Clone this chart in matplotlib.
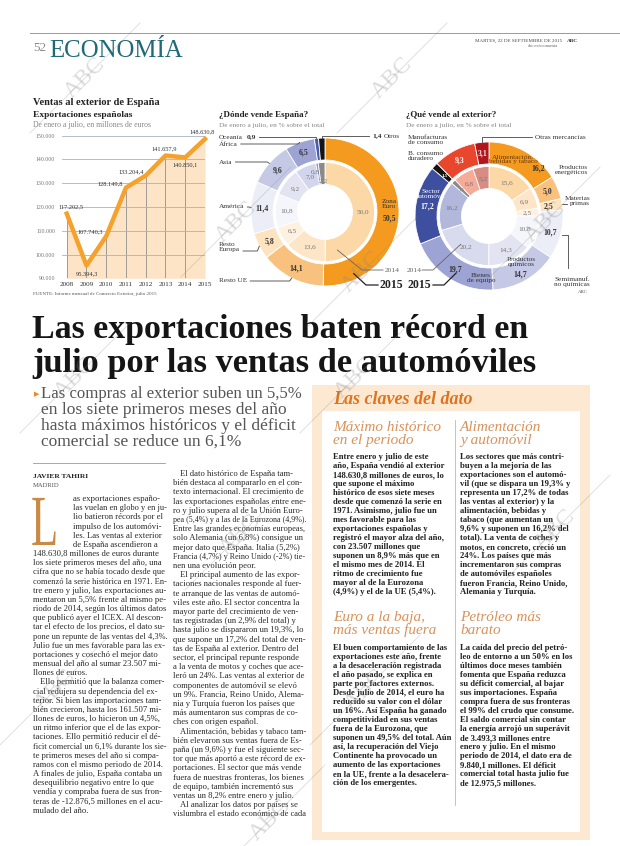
import numpy as np
import matplotlib
matplotlib.use("Agg")
import matplotlib.pyplot as plt
from matplotlib.lines import Line2D
from matplotlib.patches import Rectangle, PathPatch
from matplotlib.textpath import TextPath
from matplotlib.font_manager import FontProperties
from matplotlib.transforms import Affine2D

plt.rcParams['font.family'] = ['Liberation Serif', 'DejaVu Serif']

W, H = 620, 846

# ---- chart data ----
years = [2008, 2009, 2010, 2011, 2012, 2013, 2014, 2015]
exports = [117202.5, 95394.3, 107740.3, 128149.8, 133204.4, 141657.9, 140850.1, 148630.8]
export_ticks = [90000, 100000, 110000, 120000, 130000, 140000, 150000]

dest_names = ['Zona Euro', 'Resto UE', 'Resto Europa', 'América', 'Asia', 'África', 'Oceanía', 'Otros']
dest_2015 = [50.5, 14.1, 5.8, 11.4, 9.6, 6.5, 0.9, 1.4]
dest_2014 = [50.0, 13.6, 6.5, 10.8, 9.2, 7.0, 0.8, 2.2]

prod_names = ['Alimentación,\nbebidas y tabaco', 'Productos\nenergéticos', 'Materias\nprimas',
              'Semimanuf.\nno químicas', 'Productos\nquímicos', 'Bienes\nde equipo',
              'Sector\nautomóvil', 'B. consumo\nduradero', 'Manufacturas\nde consumo', 'Otras mercancías']
prod_2015 = [16.2, 5.0, 2.5, 10.7, 14.7, 19.7, 17.2, 1.5, 9.3, 3.1]
prod_2014 = [15.6, 6.9, 2.5, 10.8, 14.3, 20.2, 16.2, 1.5, 6.8, 5.2]

# ---- article text ----
headline = ['Las exportaciones baten récord en', 'julio por las ventas de automóviles']
subhead = ['Las compras al exterior suben un 5,5%', 'en los siete primeros meses del año',
           'hasta máximos históricos y el déficit', 'comercial se reduce un 6,1%']

col1 = [
    "as exportaciones españo-", "las vuelan en globo y en ju-", "lio batieron récords por el",
    "impulso de los automóvi-", "les. Las ventas al exterior", "de España ascendieron a",
    "148.630,8 millones de euros durante", "los siete primeros meses del año, una",
    "cifra que no se había tocado desde que", "comenzó la serie histórica en 1971. En-",
    "tre enero y julio, las exportaciones au-", "mentaron un 5,5% frente al mismo pe-",
    "riodo de 2014, según los últimos datos", "que publicó ayer el ICEX. Al descon-",
    "tar el efecto de los precios, el dato su-", "pone un repunte de las ventas del 4,3%.",
    "Julio fue un mes favorable para las ex-", "portaciones y cosechó el mejor dato",
    "mensual del año al sumar 23.507 mi-", "llones de euros.",
    ">Ello permitió que la balanza comer-", "cial redujera su dependencia del ex-",
    "terior. Si bien las importaciones tam-", "bién crecieron, hasta los 161.507 mi-",
    "llones de euros, lo hicieron un 4,5%,", "un ritmo inferior que el de las expor-",
    "taciones. Ello permitió reducir el dé-", "ficit comercial un 6,1% durante los sie-",
    "te primeros meses del año si compa-", "ramos con el mismo periodo de 2014.",
    "A finales de julio, España contaba un", "desequilibrio negativo entre lo que",
    "vendía y compraba fuera de sus fron-", "teras de -12.876,5 millones en el acu-",
    "mulado del año.",
]
col2 = [
    ">El dato histórico de España tam-", "bién destaca al compararlo en el con-",
    "texto internacional. El crecimiento de", "las exportaciones españolas entre ene-",
    "ro y julio supera al de la Unión Euro-", "pea (5,4%) y a las de la Eurozona (4,9%).",
    "Entre las grandes economías europeas,", "solo Alemania (un 6,8%) consigue un",
    "mejor dato que España. Italia (5,2%)", "Francia (4,7%) y Reino Unido (-2%) tie-",
    "nen una evolución peor.",
    ">El principal aumento de las expor-", "taciones nacionales responde al fuer-",
    "te arranque de las ventas de automó-", "viles este año. El sector concentra la",
    "mayor parte del crecimiento de ven-", "tas registradas (un 2,9% del total) y",
    "hasta julio se dispararon un 19,3%, lo", "que supone un 17,2% del total de ven-",
    "tas de España al exterior. Dentro del", "sector, el principal repunte responde",
    "a la venta de motos y coches que ace-", "leró un 24%. Las ventas al exterior de",
    "componentes de automóvil se elevó", "un 9%. Francia, Reino Unido, Alema-",
    "nia y Turquía fueron los países que", "más aumentaron sus compras de co-",
    "ches con origen español.",
    ">Alimentación, bebidas y tabaco tam-", "bién elevaron sus ventas fuera de Es-",
    "paña (un 9,6%) y fue el siguiente sec-", "tor que más aportó a este récord de ex-",
    "portaciones. El sector que más vende", "fuera de nuestras fronteras, los bienes",
    "de equipo, también incrementó sus", "ventas un 8,2% entre enero y julio.",
    ">Al analizar los datos por países se", "vislumbra el estado económico de cada",
]
box_a1 = [
    "Entre enero y julio de este", "año, España vendió al exterior", "148.630,8 millones de euros, lo",
    "que supone el máximo", "histórico de esos siete meses", "desde que comenzó la serie en",
    "1971. Asimismo, julio fue un", "mes favorable para las", "exportaciones españolas y",
    "registró el mayor alza del año,", "con 23.507 millones que", "suponen un 8,9% más que en",
    "el mismo mes de 2014. El", "ritmo de crecimiento fue", "mayor al de la Eurozona",
    "(4,9%) y el de la UE (5,4%).",
]
box_b1 = [
    "Los sectores que más contri-", "buyen a la mejoría de las", "exportaciones son el automó-",
    "vil (que se dispara un 19,3% y", "representa un 17,2% de todas", "las ventas al exterior) y la",
    "alimentación, bebidas y", "tabaco (que aumentan un", "9,6% y suponen un 16,2% del",
    "total). La venta de coches y", "motos, en concreto, creció un", "24%. Los países que más",
    "incrementaron sus compras", "de automóviles españoles", "fueron Francia, Reino Unido,",
    "Alemania y Turquía.",
]
box_a2 = [
    "El buen comportamiento de las", "exportaciones este año, frente", "a la desaceleración registrada",
    "el año pasado, se explica en", "parte por factores externos.", "Desde julio de 2014, el euro ha",
    "reducido su valor con el dólar", "un 16%. Así España ha ganado", "competitividad en sus ventas",
    "fuera de la Eurozona, que", "suponen un 49,5% del total. Aún", "así, la recuperación del Viejo",
    "Continente ha provocado un", "aumento de las exportaciones", "en la UE, frente a la desacelera-",
    "ción de los emergentes.",
]
box_b2 = [
    "La caída del precio del petró-", "leo de entorno a un 50% en los", "últimos doce meses también",
    "fomenta que España reduzca", "su déficit comercial, al bajar", "sus importaciones. España",
    "compra fuera de sus fronteras", "el 99% del crudo que consume.", "El saldo comercial sin contar",
    "la energía arrojó un superávit", "de 3.493,3 millones entre", "enero y julio. En el mismo",
    "periodo de 2014, el dato era de", "9.840,1 millones. El déficit", "comercial total hasta julio fue",
    "de 12.975,5 millones.",
]


def es(v, d=1):
    return f"{v:,.{d}f}".replace(',', ' ').replace('.', ',').replace(' ', '.')


fig = plt.figure(figsize=(W / 100, H / 100), dpi=100)
R = fig.canvas.get_renderer()


def txt(x, y, s, size=6, fit=None, **kw):
    kw.setdefault('va', 'baseline')
    t = fig.text(x / W, 1 - y / H, s, fontsize=size, **kw)
    if fit:
        w = t.get_window_extent(R).width
        if w > fit:
            t.set_fontsize(size * fit / w)
    return t


def line(xs, ys, **kw):
    kw.setdefault('color', '#555555')
    kw.setdefault('lw', 0.6)
    fig.add_artist(Line2D(np.asarray(xs, float) / W, 1 - np.asarray(ys, float) / H, **kw))


def rect(x0, y0, x1, y1, color, **kw):
    fig.add_artist(Rectangle((x0 / W, 1 - y1 / H), (x1 - x0) / W, (y1 - y0) / H,
                             color=color, lw=0, transform=fig.transFigure, **kw))


def axes_px(x0, y0, x1, y1):
    return fig.add_axes([x0 / W, 1 - y1 / H, (x1 - x0) / W, (y1 - y0) / H])


def column(x, y0, step, lines, width, size=6.2, indent=7, **kw):
    for i, s in enumerate(lines):
        dx = 0
        if s.startswith('>'):
            s, dx = s[1:], indent
        txt(x + dx, y0 + i * step, s, size=size, fit=width - dx, **kw)


# ---- page header ----
line([30, 620], [33, 33], color='#9a9a9a', lw=0.7)
txt(33, 51, '52', size=9.5, color='#8a8a8a')
txt(49, 57, 'ECONOMÍA', size=21, fit=134, color='#1e6a78')
txt(562, 42, 'MARTES, 22 DE SEPTIEMBRE DE 2015', size=3.6, ha='right', color='#444')
txt(567, 42, 'ABC', size=3.8, weight='bold', color='#333')
txt(558, 47, 'abc.es/economia', size=3.3, ha='right', color='#666')

# ---- line chart: exports ----
txt(33, 105, 'Ventas al exterior de España', size=8, fit=126, weight='bold', color='#222')
txt(33, 117, 'Exportaciones españolas', size=7, fit=100, weight='bold', color='#222')
txt(33, 127, 'De enero a julio, en millones de euros', size=5.6, fit=122, color='#888')

ax = axes_px(62, 135.7, 205, 278.3)
ax.set_xlim(2007.76, 2015)
ax.set_ylim(90000, 150000)
ax.fill_between(years, exports, 90000, color='#fde4c6', lw=0, zorder=1)
ax.vlines(years, 90000, exports, color='#8f8f8f', lw=0.6, zorder=2)
ax.plot(years, exports, color='#f5a12c', lw=3.2, solid_joinstyle='round', zorder=4, clip_on=False)
ax.set_yticks(export_ticks)
ax.set_yticklabels([es(v, 0) for v in export_ticks])
ax.set_xticks(years)
ax.set_xticklabels([str(y) for y in years])
ax.yaxis.grid(True, color='#aab0c6', lw=0.6)
ax.set_axisbelow(False)
ax.tick_params(axis='y', length=0, labelsize=4.2, labelcolor='#777777', pad=5)
ax.tick_params(axis='x', length=0, labelsize=5.2, labelcolor='#333333', pad=3)
for sp in ax.spines.values():
    sp.set_visible(False)
ax.patch.set_visible(False)
lab_style = [('center', 3, 5), ('center', 0, -6), ('right', -2, 3), ('right', -2, 3),
             ('right', -1, 3), ('center', -1, 5), ('center', 0, -5), ('center', -2, 5)]
for yr, v, (ha, dx, dy) in zip(years, exports, lab_style):
    ax.annotate(es(v), (yr, v), xytext=(dx, dy), textcoords='offset points', ha=ha,
                va='center', fontsize=4.6, color='#333333', zorder=6, annotation_clip=False)
txt(33, 295, 'FUENTE: Informe mensual de Comercio Exterior, julio 2015', size=3.6, fit=130, color='#555')

# ---- donut charts ----
R_OUT, R_IN, RING = 74, 49.5, 22


def donut(cx, cy, outer, inner, oc, ic):
    a = axes_px(cx - 90, cy - 90, cx + 90, cy + 90)
    wp = dict(width=RING, edgecolor='white', linewidth=0.6)
    wo, _ = a.pie(outer, radius=R_OUT, startangle=90, counterclock=False, colors=oc, wedgeprops=wp)
    wi, _ = a.pie(inner, radius=R_IN, startangle=90, counterclock=False, colors=ic, wedgeprops=wp)
    a.set_xlim(-90, 90)
    a.set_ylim(-90, 90)
    a.axis('off')
    return wo, wi


def spot(w, r, cx, cy, dang=0.0):
    th = np.deg2rad((w.theta1 + w.theta2) / 2 + dang)
    return cx + r * np.cos(th), cy - r * np.sin(th)


def at_angle(deg, r, cx, cy):
    th = np.deg2rad(deg)
    return cx + r * np.cos(th), cy - r * np.sin(th)


VAL = dict(size=5.6, weight='bold', ha='center', va='center')
IVAL = dict(size=5.2, ha='center', va='center', color='#777777')
NAME = dict(size=5.2, va='center', color='#333333', linespacing=0.95)

# left donut: where Spain sells
LX, LY = 325, 212
txt(219, 117, '¿Dónde vende España?', size=7, fit=90, weight='bold', color='#222')
txt(219, 127, 'De enero a julio, en % sobre el total', size=5.6, fit=105, color='#888')
dest_outer_c = ['#f39a1f', '#f8c27e', '#fde3c0', '#eceef7', '#c5c9e6', '#9da3d2', '#4b5cab', '#141414']
dest_inner_c = ['#fcd8a6', '#fde6c8', '#fef1e0', '#f5f6fb', '#e2e4f2', '#d2d5eb', '#8d95cb', '#8a8a8a']
wo, wi = donut(LX, LY, dest_2015, dest_2014, dest_outer_c, dest_inner_c)

for i in [1, 2, 3, 4, 5]:
    x, y = spot(wo[i], 63, LX, LY)
    txt(x, y, es(dest_2015[i]), color='#333', **VAL)
x, y = spot(wo[0], 64, LX, LY)
txt(x, y - 9, 'Zona\nEuro', size=5.2, ha='center', va='center', color='#333', linespacing=0.95)
txt(x, y + 6, es(dest_2015[0]), color='#333', **VAL)
for i, v in enumerate(dest_2014):
    r, dang = 38, 0
    if i == 6:
        r, dang = 41, 4
    if i == 7:
        r = 31
    x, y = spot(wi[i], r, LX, LY, dang)
    txt(x, y, es(v), **IVAL)

left_labels = [(6, 137), (5, 144), (4, 162), (3, 207), (2, 247), (1, 281)]
for i, yy in left_labels:
    name = 'Resto\nEuropa' if i == 2 else dest_names[i]
    t = txt(219, yy, name, ha='left', **NAME)
    x_end = t.get_window_extent(R).x1
    if i == 6:
        t2 = txt(x_end + 4, yy, es(dest_2015[i]), size=5.4, weight='bold', va='center', color='#333')
        x_end = t2.get_window_extent(R).x1
    ly = yy + 4 if i == 2 else yy
    tx, ty = spot(wo[i], R_OUT, LX, LY)
    if i == 6:
        line([x_end + 3, tx, tx], [ly, ly, ty], color='#444')
    else:
        line([x_end + 3, tx - 2, tx], [ly, ly, ty], color='#444')
tx, ty = spot(wo[7], R_OUT, LX, LY)
line([tx, tx, 369], [ty, 136, 136], color='#444')
t = txt(372, 136, es(dest_2015[7]), size=5.4, weight='bold', va='center', color='#333')
txt(t.get_window_extent(R).x1 + 2, 136, 'Otros', ha='left', **NAME)

sx, sy = at_angle(-72, 40, LX, LY)
line([sx, 362, 383], [sy, 270, 270], color='#666')
txt(385, 270, '2014', size=5.4, va='center', color='#666')
sx, sy = at_angle(-65, 68, LX, LY)
line([sx, 366, 378], [sy, 285, 285], color='#222', lw=0.9)
txt(380, 285, '2015', size=8.5, weight='bold', va='center', color='#222')

# right donut: what Spain sells
RX, RY = 489, 216
txt(406, 117, '¿Qué vende al exterior?', size=7, fit=92, weight='bold', color='#222')
txt(406, 127, 'De enero a julio, en % sobre el total', size=5.6, fit=105, color='#888')
prod_outer_c = ['#f39a1f', '#f8c27e', '#fde3c0', '#eceef7', '#c5c9e6', '#9da3d2',
                '#3d4f9e', '#141414', '#e8462d', '#b3151c']
prod_inner_c = ['#fcd8a6', '#fde6c8', '#fef1e0', '#f5f6fb', '#e2e4f2', '#d8dbee',
                '#b2b7dc', '#8a8a8a', '#f6aa98', '#d98d82']
wo, wi = donut(RX, RY, prod_2015, prod_2014, prod_outer_c, prod_inner_c)

val_r = [None, 63, 60, 63, 63, 63, 63, 60, 63, 63]
val_c = ['#333', '#333', '#333', '#333', '#333', '#333', 'white', 'white', 'white', '#eee']
for i, v in enumerate(prod_2015):
    if i == 0:
        continue
    x, y = spot(wo[i], val_r[i], RX, RY)
    if i == 4:
        y += 4
    vs = VAL if i != 7 else dict(VAL, size=3.6)
    txt(x, y, es(v), color=val_c[i], **vs)
x, y = spot(wo[0], 68, RX, RY, -17)
txt(x, y, es(prod_2015[0]), color='#333', **VAL)
for i, v in enumerate(prod_2014):
    x, y = spot(wi[i], 38, RX, RY)
    kw = IVAL if i != 7 else dict(IVAL, size=3.4)
    txt(x, y, es(v), **kw)

txt(513, 159, prod_names[0], size=5.2, ha='center', va='center', color='#6b3a0a', linespacing=0.95)
txt(588, 170, prod_names[1], ha='right', **NAME)
txt(590, 201, prod_names[2], ha='right', **NAME)
tx, ty = spot(wo[2], R_OUT, RX, RY)
line([tx, 567], [ty, ty], color='#444')
txt(590, 282, prod_names[3], ha='right', **NAME)
tx, ty = spot(wo[3], R_OUT + 1, RX, RY)
line([tx, 568, 568], [ty, ty, 268], color='#444')
txt(521, 262, prod_names[4], size=5.2, ha='center', va='center', color='#333', linespacing=0.95)
txt(481, 278, prod_names[5], size=5.2, ha='center', va='center', color='#333', linespacing=0.95)
txt(431, 194, prod_names[6], size=5.2, ha='center', va='center', color='white', linespacing=0.95)
txt(408, 156, prod_names[7], ha='left', **NAME)
txt(408, 140, prod_names[8], ha='left', **NAME)
tx, ty = spot(wo[9], R_OUT, RX, RY)
line([tx, tx, 532], [ty, 137, 137], color='#444')
txt(535, 137, prod_names[9], ha='left', **NAME)

sx, sy = at_angle(-135, 40, RX, RY)
line([422, 433, sx], [270, 270, sy], color='#666')
txt(407, 270, '2014', size=5.4, va='center', color='#666')
sx, sy = at_angle(-120, 66, RX, RY)
line([433, 444, sx], [285, 285, sy], color='#222', lw=0.9)
txt(408, 285, '2015', size=8.5, weight='bold', va='center', color='#222')
txt(588, 293, 'ABC', size=3.5, ha='right', color='#555')

# ---- headline and deck ----
txt(32, 338, headline[0], size=27, fit=497, weight='bold', color='#151515')
txt(32, 372, headline[1], size=27, fit=504, weight='bold', color='#151515')
txt(34, 394, '\u25b6', size=5, color='#e8892a', family='DejaVu Sans', va='center')
for k, s in enumerate(subhead):
    txt(41, 398 + k * 15.8, s, size=12.5, fit=262, color='#555555')

# ---- byline and body ----
line([33, 165], [463, 463], color='#999', lw=0.6)
txt(33, 478, 'JAVIER TAHIRI', size=5.4, weight='bold', color='#222')
txt(33, 487, 'MADRID', size=4.8, color='#555')

# narrow drop cap: glyph outline squeezed horizontally
cap = TextPath((0, 0), 'L', size=1, prop=FontProperties(family='Liberation Serif'))
cap_tf = Affine2D().scale(72 * 0.62, 72).translate(31, H - 545)
fig.add_artist(PathPatch(cap, transform=cap_tf, color='#c98a45', lw=0))

STEP = 9.17
column(73, 501, STEP, col1[:6], 93, color='#2a2a2a')
column(33, 501 + 6 * STEP, STEP, col1[6:], 133, color='#2a2a2a')
column(173, 476, 9.2, col2, 133, color='#2a2a2a')

# ---- key facts box ----
rect(312, 385, 590, 840, '#fde8d1')
rect(322, 411, 580, 832, 'white')
txt(333, 404, 'Las claves del dato', size=13, fit=150, weight='bold', style='italic', color='#e0731d')
line([455, 455], [420, 805], color='#b8a898', lw=0.5)
HEAD = dict(size=11, style='italic', color='#d9925a')
BOX = dict(size=6.2, weight='bold', color='#222')
txt(333, 431, 'Máximo histórico', fit=110, **HEAD)
txt(333, 444, 'en el periodo', fit=110, **HEAD)
column(333, 459, 9.0, box_a1, 118, **BOX)
txt(460, 431, 'Alimentación', fit=110, **HEAD)
txt(460, 444, 'y automóvil', fit=110, **HEAD)
column(460, 459, 9.0, box_b1, 116, **BOX)
txt(333, 621, 'Euro a la baja,', fit=110, **HEAD)
txt(333, 634, 'más ventas fuera', fit=110, **HEAD)
column(333, 650, 9.0, box_a2, 118, **BOX)
txt(460, 621, 'Petróleo más', fit=110, **HEAD)
txt(460, 634, 'barato', fit=110, **HEAD)
column(460, 650, 9.0, box_b2, 116, **BOX)

# ---- ABC watermarks ----
wm = [(85, 78), (392, 78), (236, 222), (545, 222), (362, 272), (75, 378), (355, 378),
      (240, 535), (555, 530), (55, 690), (365, 690), (270, 820)]
for x, y in wm:
    txt(x, y, 'ABC', size=17, color='#8a8a8a', alpha=0.3, rotation=45,
        ha='center', va='center', zorder=10)
    line([x - 55, x + 55], [y + 55, y - 55], color='#8a8a8a', alpha=0.3, lw=0.6, zorder=10)

fig.savefig('out.png', dpi=100)
